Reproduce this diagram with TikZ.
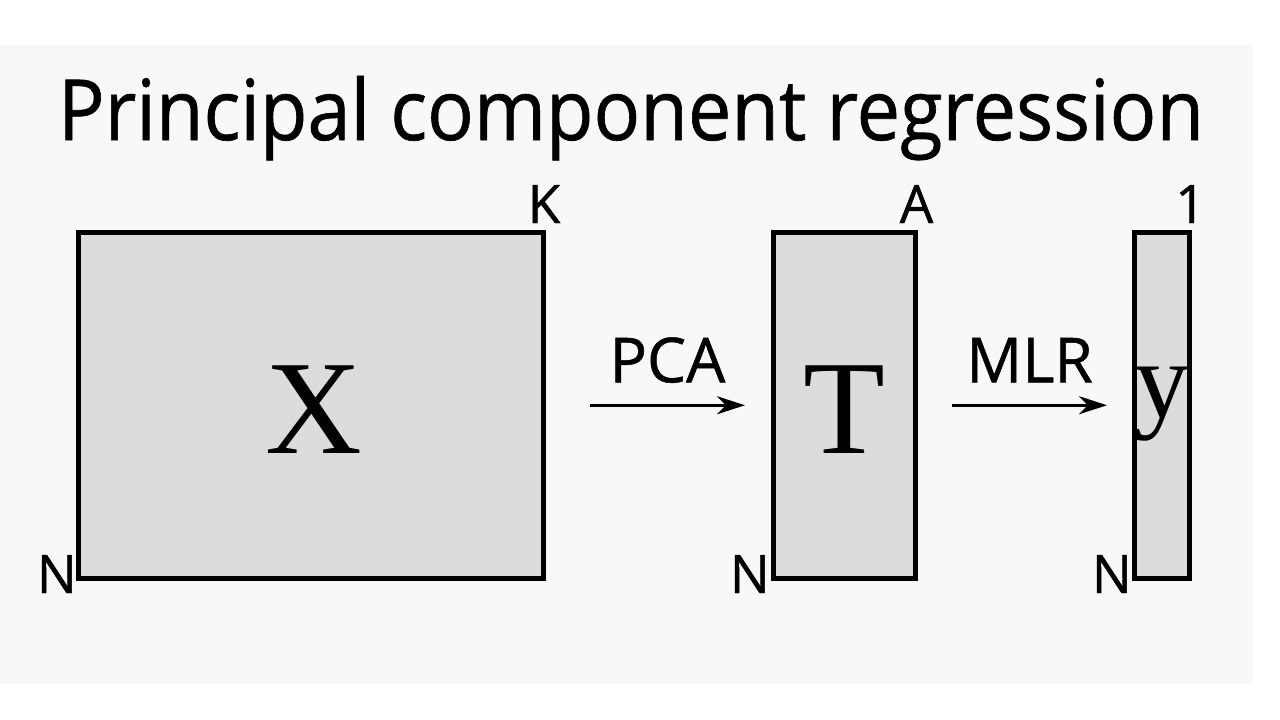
\documentclass[tikz,border=0pt]{standalone}
\usepackage{fontspec}
\usepackage{graphicx}
\usetikzlibrary{arrows.meta}
\newfontfamily\gillfont[FakeBold=0.8]{Open Sans}
\newfontfamily\serfont{Liberation Serif}
\definecolor{bandgray}{HTML}{F8F8F8}
\definecolor{boxgray}{HTML}{DCDCDC}
\begin{document}
\begin{tikzpicture}[x=1pt,y=-1pt,
  matbox/.style={draw=black, line width=5pt, fill=boxgray, outer sep=0pt, inner sep=0pt},
  bigletter/.style={font=\serfont\fontsize{134}{134}\selectfont, anchor=base, inner sep=0pt},
  dimlabel/.style={font=\gillfont\fontsize{53}{53}\selectfont, inner sep=0pt},
  arrlabel/.style={font=\gillfont\fontsize{62}{62}\selectfont, inner sep=0pt, anchor=base},
  arr/.style={line width=3.2pt, -{Stealth[length=28pt, width=18pt, inset=9pt]}}]
\useasboundingbox (0,0) rectangle (1280,720);
\fill[white] (0,0) rectangle (1280,720);
\fill[bandgray] (0,45) rectangle (1253,684);
% title
\node[anchor=base, inner sep=0pt] (title) at (631,140)
  {\resizebox{1145pt}{64pt}{\gillfont Principal component regression}};
% matrices
\node[matbox, minimum width=465pt, minimum height=345.5pt] (X) at (311,405.25) {};
\node[matbox, minimum width=142pt, minimum height=345.5pt] (T) at (844.5,405.25) {};
\node[matbox, minimum width=55pt, minimum height=345.5pt] (Y) at (1162,405.25) {};
% letters
\node[bigletter] (Xl) at (313.5,453) {X};
\node[bigletter] (Tl) at (844.5,453) {T};
\node[bigletter, font=\serfont\fontsize{110}{110}\selectfont] (Yl) at (1162,417) {y};
% dimension labels
\node[dimlabel, anchor=base] (K) at ([xshift=0.5pt, yshift=9.5pt]X.north east) {K};
\node[dimlabel, anchor=base] (A) at ([xshift=1pt, yshift=9.5pt]T.north east) {A};
\node[dimlabel, anchor=base] (one) at ([xshift=1pt, yshift=9.5pt]Y.north east) {1};
\node[dimlabel, anchor=base east] (N1) at ([xshift=-1.5pt, yshift=-15pt]X.south west) {N};
\node[dimlabel, anchor=base east] (N2) at ([xshift=-3.5pt, yshift=-15pt]T.south west) {N};
\node[dimlabel, anchor=base east] (N3) at ([xshift=-2.5pt, yshift=-15pt]Y.south west) {N};
% arrows
\draw[arr] ([xshift=46.5pt]X.east) -- node[arrlabel, yshift=23pt] (pca) {PCA} ([xshift=-28.5pt]T.west);
\draw[arr] ([xshift=36.5pt]T.east) -- node[arrlabel, yshift=23pt] (mlr) {MLR} ([xshift=-27.5pt]Y.west);
\end{tikzpicture}
\end{document}
